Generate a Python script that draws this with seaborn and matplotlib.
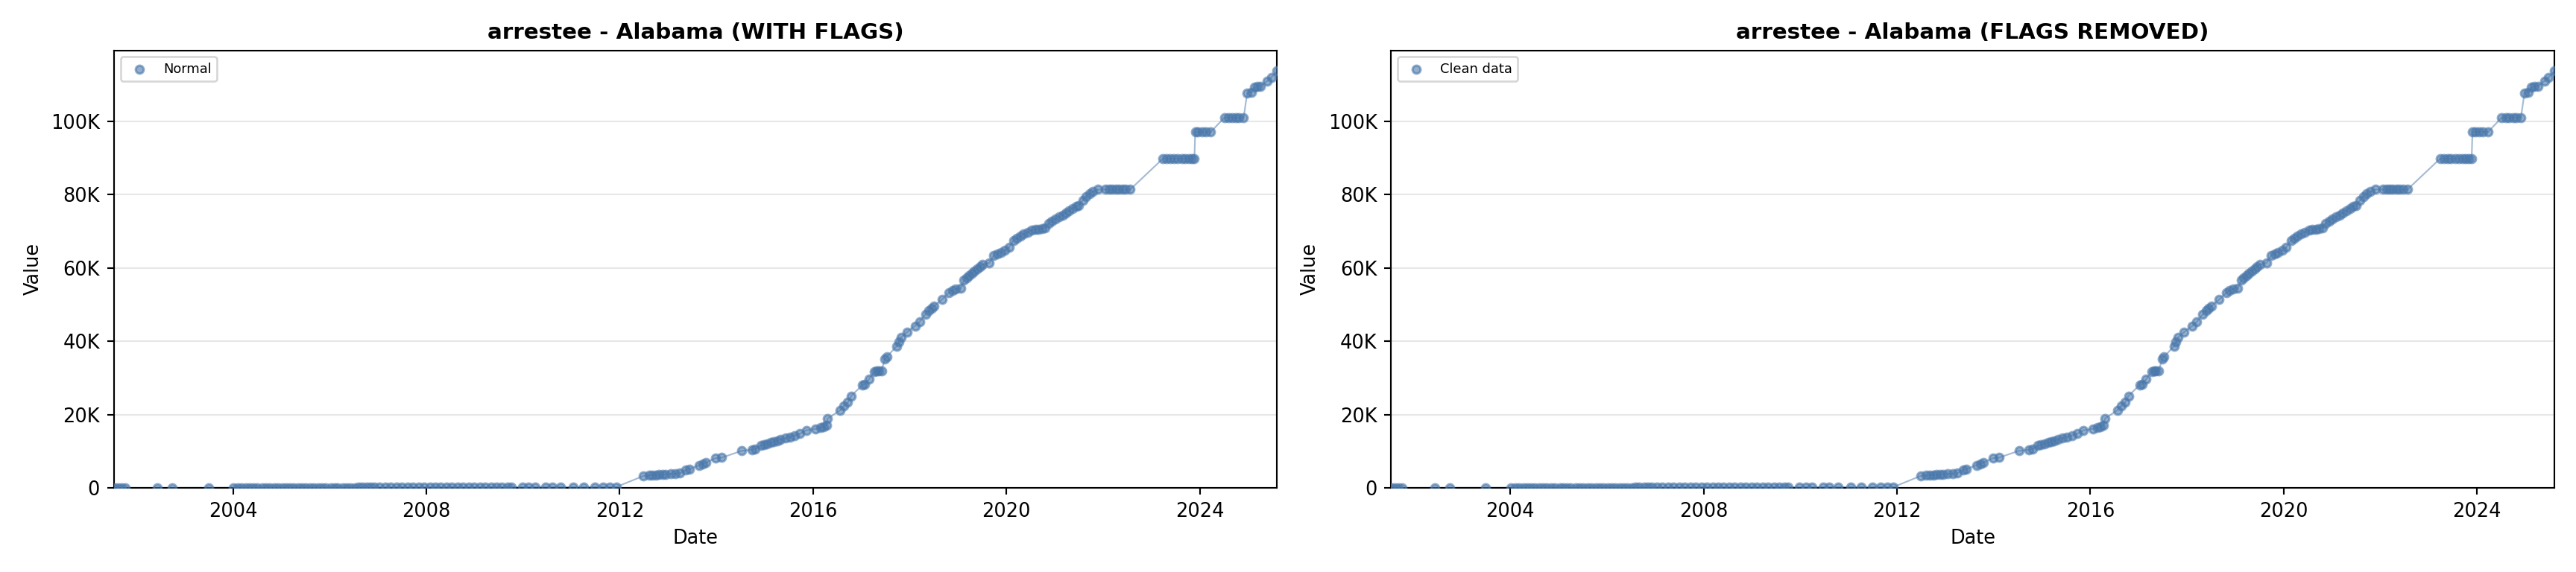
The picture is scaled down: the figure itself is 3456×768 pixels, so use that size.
import pandas as pd
import numpy as np
import matplotlib
matplotlib.use("Agg")
import matplotlib.pyplot as plt
import matplotlib.dates as mdates
from matplotlib.ticker import FuncFormatter
import seaborn as sns


COLOR = "#4a78ab"

TITLES = ["arrestee - Alabama (WITH FLAGS)", "arrestee - Alabama (FLAGS REMOVED)"]
LEGEND_LABELS = ["Normal", "Clean data"]

# cumulative counts (same series in both panels)
dates = [
    "2001-07-14", "2001-08-10", "2001-09-08", "2001-10-06", "2002-06-08", "2002-09-28",
    "2003-06-28", "2004-01-03", "2004-02-07", "2004-03-06", "2004-04-10",
    "2004-05-08", "2004-06-05", "2004-07-03", "2004-08-07", "2004-09-04", "2004-10-02",
    "2004-11-06", "2004-12-04",
    "2005-01-08", "2005-02-05", "2005-03-05", "2005-04-02", "2005-05-07", "2005-06-04",
    "2005-07-02", "2005-08-06", "2005-09-03", "2005-10-08", "2005-11-05", "2005-12-03",
    "2006-01-07", "2006-02-04", "2006-03-04", "2006-04-08", "2006-05-06", "2006-06-03",
    "2006-07-08", "2006-08-05", "2006-09-02", "2006-10-07", "2006-11-04", "2006-12-02",
    "2007-01-13", "2007-02-24", "2007-04-07", "2007-05-19", "2007-06-30", "2007-08-11",
    "2007-09-22", "2007-11-03", "2007-12-15",
    "2008-01-26", "2008-03-08", "2008-04-19", "2008-05-31", "2008-07-12", "2008-08-23",
    "2008-10-04", "2008-11-15", "2008-12-27",
    "2009-02-07", "2009-03-21", "2009-05-02", "2009-06-13", "2009-07-25", "2009-09-05",
    "2009-10-03", "2009-12-25",
    "2010-02-10", "2010-04-01", "2010-06-20", "2010-08-08", "2010-10-12",
    "2011-01-15", "2011-04-05", "2011-06-28", "2011-08-28", "2011-10-20", "2011-12-05",
    "2012-06-28", "2012-08-10", "2012-09-05", "2012-10-01", "2012-10-25", "2012-11-20",
    "2012-12-15",
    "2013-01-20", "2013-02-25", "2013-04-01", "2013-05-15", "2013-06-10", "2013-08-25",
    "2013-09-20", "2013-10-15", "2013-12-25",
    "2014-02-10", "2014-07-10", "2014-09-25", "2014-10-20", "2014-12-01", "2014-12-25",
    "2015-01-20", "2015-02-15", "2015-03-10", "2015-04-05", "2015-05-01", "2015-06-05",
    "2015-07-10", "2015-08-15", "2015-09-25", "2015-11-10",
    "2016-01-20", "2016-02-25", "2016-03-20", "2016-04-10", "2016-04-20", "2016-07-25",
    "2016-08-20", "2016-09-20", "2016-10-15",
    "2017-01-10", "2017-01-25", "2017-02-25", "2017-04-10", "2017-04-25", "2017-05-10",
    "2017-06-01", "2017-06-28", "2017-07-10", "2017-09-25", "2017-10-10", "2017-10-25",
    "2017-12-10",
    "2018-02-10", "2018-03-15", "2018-05-01", "2018-05-25", "2018-06-15", "2018-07-05",
    "2018-09-01", "2018-10-25", "2018-11-20", "2018-12-15",
    "2019-01-20", "2019-02-15", "2019-03-05", "2019-03-25", "2019-04-15", "2019-05-05",
    "2019-05-25", "2019-06-15", "2019-07-05", "2019-08-25", "2019-09-28", "2019-10-25",
    "2019-11-20", "2019-12-20",
    "2020-01-20", "2020-02-25", "2020-03-20", "2020-04-15", "2020-05-10", "2020-06-10",
    "2020-07-10", "2020-08-05", "2020-09-01", "2020-09-25", "2020-10-20", "2020-11-15",
    "2020-12-10",
    "2021-01-05", "2021-02-01", "2021-03-01", "2021-03-25", "2021-04-20", "2021-05-15",
    "2021-06-10", "2021-07-01", "2021-08-01", "2021-08-25", "2021-09-20", "2021-10-15",
    "2021-11-25",
    "2022-01-20", "2022-02-15", "2022-03-10", "2022-04-05", "2022-05-01", "2022-05-25",
    "2022-06-20", "2022-07-25",
    "2023-03-28", "2023-04-25", "2023-05-25", "2023-06-20", "2023-07-20", "2023-08-20",
    "2023-09-15", "2023-10-10", "2023-11-01", "2023-11-22", "2023-11-28", "2023-12-20",
    "2024-01-20", "2024-02-15", "2024-03-25", "2024-07-05", "2024-08-05", "2024-09-01",
    "2024-10-01", "2024-10-25", "2024-11-28", "2024-12-25",
    "2025-01-25", "2025-02-15", "2025-03-10", "2025-04-05", "2025-05-25", "2025-06-25",
    "2025-08-08",
]

values = [
    1, 2, 3, 4, 6, 8,
    11, 15, 18, 21, 25,
    28, 31, 34, 37, 40, 43,
    46, 49,
    52, 55, 58, 61, 64, 67,
    70, 73, 76, 79, 82, 85,
    88, 91, 94, 97, 100, 103,
    106, 109, 112, 115, 118, 121,
    124, 127, 130, 133, 136, 139,
    142, 145, 148,
    151, 154, 157, 160, 163, 166,
    169, 172, 175,
    178, 181, 184, 187, 190, 193,
    196, 199,
    202, 205, 208, 211, 214,
    217, 220, 223, 226, 229, 232,
    3250, 3420, 3500, 3550, 3600, 3650,
    3700,
    3850, 3900, 4000, 4900, 5100, 6200,
    6500, 6900, 8100,
    8250, 10100, 10400, 10600, 11500, 11700,
    12000, 12300, 12600, 12900, 13200, 13600,
    13900, 14300, 14800, 15700,
    16100, 16400, 16700, 17000, 18900, 21200,
    22400, 23300, 25100,
    28100, 28300, 29600, 31800, 31900, 31900,
    32000, 35200, 35700, 38700, 39800, 41000,
    42500,
    44200, 45300, 47400, 48300, 49000, 49600,
    51400, 53300, 53800, 54300,
    54500, 56600, 57300, 57900, 58600, 59200,
    59800, 60400, 60900, 61400, 63400, 63900,
    64300, 64800,
    65600, 67500, 68100, 68700, 69200, 69800,
    70300, 70500, 70600, 70700, 71000, 72200,
    72800,
    73400, 73900, 74400, 75000, 75600, 76300,
    76900, 77000, 78500, 79500, 80300, 80800,
    81400,
    81400, 81400, 81400, 81400, 81400, 81400,
    81400, 81400,
    89800, 89800, 89800, 89800, 89800, 89800,
    89800, 89800, 89800, 89800, 97100, 97100,
    97100, 97100, 97100, 101000, 101000, 101000,
    101000, 101000, 101000, 107700,
    108000, 109300, 109500, 109600, 111000, 112000,
    113700,
]


def k_fmt(x, pos):
    if x == 0:
        return "0"
    return f"{x / 1000:.0f}K"


df = pd.DataFrame({"date": pd.to_datetime(dates), "value": values})

fig, axes = plt.subplots(1, 2, figsize=(18, 4), dpi=192)
fig.subplots_adjust(left=0.0442, right=0.9916, bottom=0.1471, top=0.9121, wspace=0.098)

for ax, title, lab in zip(axes, TITLES, LEGEND_LABELS):
    sns.lineplot(data=df, x="date", y="value", ax=ax, color=COLOR, alpha=0.5,
                 linewidth=0.8, estimator=None, sort=False)
    sns.scatterplot(data=df, x="date", y="value", ax=ax, color=COLOR, edgecolor=COLOR,
                    s=16, linewidth=1.2, alpha=0.6, label=lab, zorder=3)

    ax.set_xlim(df["date"].min(), df["date"].max())
    ax.set_ylim(0, df["value"].max() * 1.05)
    ax.xaxis.set_major_locator(mdates.YearLocator(4))
    ax.xaxis.set_major_formatter(mdates.DateFormatter("%Y"))
    ax.yaxis.set_major_formatter(FuncFormatter(k_fmt))
    ax.grid(axis="y", alpha=0.3)
    ax.set_axisbelow(True)
    ax.tick_params(labelsize=9.6)

    ax.set_title(title, fontsize=11, fontweight="bold")
    ax.set_xlabel("Date", fontsize=9.6)
    ax.set_ylabel("Value", fontsize=9.6)
    ax.legend(loc="upper left", fontsize=6.7)

plt.savefig("out.png", dpi=192)
plt.close()
